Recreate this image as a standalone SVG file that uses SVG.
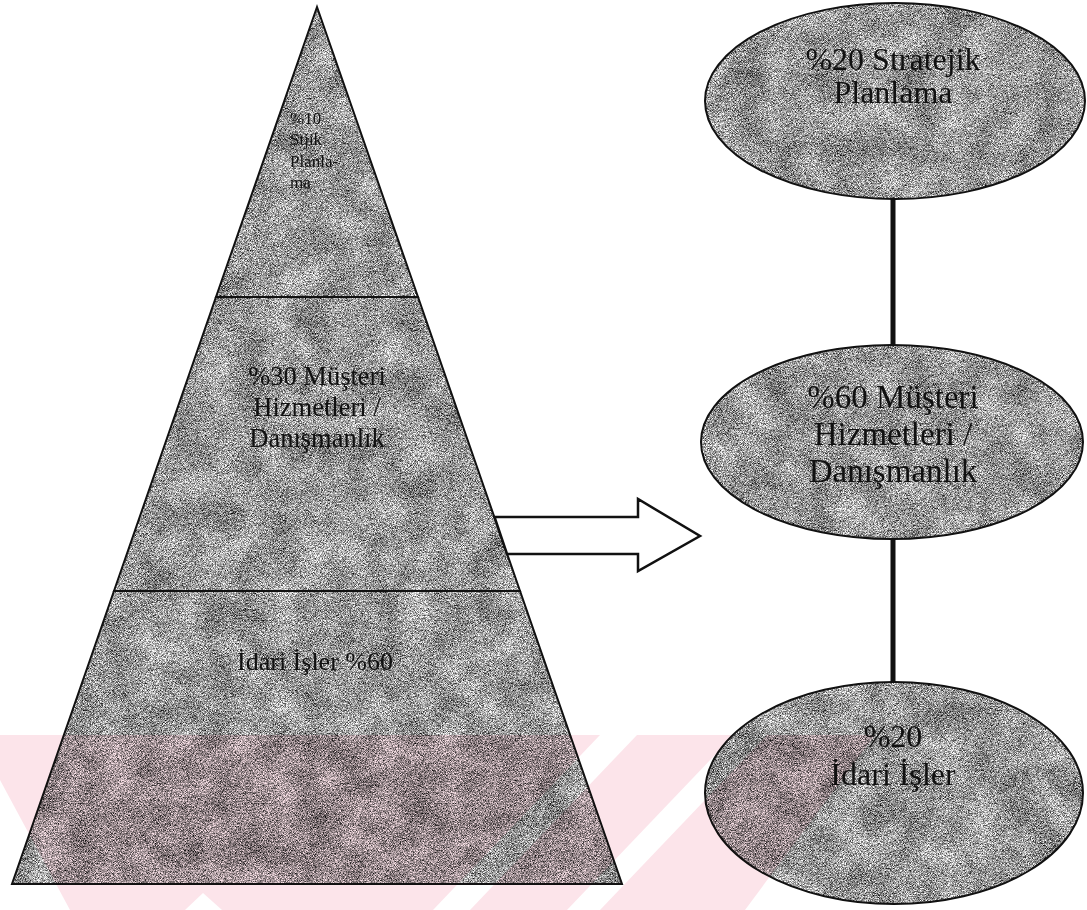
<svg xmlns="http://www.w3.org/2000/svg" width="1087" height="910" viewBox="0 0 1087 910">
<style>
  .edge{fill:none;stroke:#111;stroke-width:2}
  .grain{fill:#999;filter:url(#grain)}
  .t{font-family:"Liberation Serif","Times New Roman",serif;fill:#111}
  .c{text-anchor:middle}
  .link{stroke:#111;stroke-width:5;fill:none}
</style>
<defs>
  <filter id="grain" x="0" y="0" width="1" height="1" color-interpolation-filters="sRGB">
    <feTurbulence type="fractalNoise" baseFrequency="1.4" numOctaves="1" seed="7" result="fine"/>
    <feColorMatrix in="fine" type="matrix" values="1 0 0 0 0  1 0 0 0 0  1 0 0 0 0  0 0 0 0 1" result="fineG"/>
    <feTurbulence type="fractalNoise" baseFrequency="0.03" numOctaves="2" seed="3" result="coarse"/>
    <feColorMatrix in="coarse" type="matrix" values="1 0 0 0 0  1 0 0 0 0  1 0 0 0 0  0 0 0 0 1" result="coarseG"/>
    <feComposite in="fineG" in2="coarseG" operator="arithmetic" k2="1" k3="0.22" k4="-0.11" result="mix"/>
    <feComponentTransfer in="mix" result="contrast">
      <feFuncR type="linear" slope="1.9" intercept="-0.35"/>
      <feFuncG type="linear" slope="1.9" intercept="-0.35"/>
      <feFuncB type="linear" slope="1.9" intercept="-0.35"/>
      <feFuncA type="linear" slope="0" intercept="1"/>
    </feComponentTransfer>
    <feComposite in="contrast" in2="SourceGraphic" operator="in"/>
  </filter>
  <mask id="wmMask">
    <rect x="0" y="735" width="1087" height="175" fill="#fff"/>
    <polygon points="600,735 637,735 470,910 433,910" fill="#000"/>
    <polygon points="734,735 767,735 600,910 567,910" fill="#000"/>
    <polygon points="185,910 222,910 203,893" fill="#000"/>
    <polygon points="0,780 70,910 0,910" fill="#000"/>
    <polygon points="875,735 1087,735 1087,910 745,910" fill="#000"/>
  </mask>
</defs>

<g id="pyramid-top">
  <polygon class="grain" points="317,7 216,297 418,297"/>
  <polygon class="edge" points="317,7 216,297 418,297"/>
  <text class="t" font-size="17" x="290" y="124">%10</text>
  <text class="t" font-size="17" x="290" y="145">Stjik</text>
  <text class="t" font-size="17" x="290" y="167">Planla-</text>
  <text class="t" font-size="17" x="290" y="188">ma</text>
</g>
<g id="pyramid-middle">
  <polygon class="grain" points="216,297 418,297 520,591 114,591"/>
  <polygon class="edge" points="216,297 418,297 520,591 114,591"/>
  <text class="t c" font-size="26.5" x="317" y="385">%30 Müşteri</text>
  <text class="t c" font-size="26.5" x="317" y="416">Hizmetleri /</text>
  <text class="t c" font-size="26.5" x="317" y="447">Danışmanlık</text>
</g>
<g id="pyramid-bottom">
  <polygon class="grain" points="114,591 520,591 622,884 12,884"/>
  <polygon class="edge" points="114,591 520,591 622,884 12,884"/>
  <text class="t c" font-size="26" x="315" y="670">İdari İşler %60</text>
</g>

<g id="transition-arrow">
  <polygon points="494.5,517 638,517 638,499 700,536 638,571 638,554 507,554" fill="#fff" stroke="#111" stroke-width="2.5" stroke-linejoin="miter"/>
</g>

<g id="connectors">
  <line class="link" x1="893" y1="199" x2="893" y2="345"/>
  <line class="link" x1="893" y1="539" x2="893" y2="682"/>
</g>

<g id="ellipse-strategic">
  <ellipse class="grain" cx="895" cy="101" rx="190" ry="98"/>
  <ellipse class="edge" cx="895" cy="101" rx="190" ry="98"/>
  <text class="t c" font-size="32" x="893" y="70">%20 Stratejik</text>
  <text class="t c" font-size="32" x="893" y="103">Planlama</text>
</g>
<g id="ellipse-customer">
  <ellipse class="grain" cx="892" cy="442" rx="191" ry="97"/>
  <ellipse class="edge" cx="892" cy="442" rx="191" ry="97"/>
  <text class="t c" font-size="33" x="893" y="408">%60 Müşteri</text>
  <text class="t c" font-size="33" x="893" y="445">Hizmetleri /</text>
  <text class="t c" font-size="33" x="893" y="482">Danışmanlık</text>
</g>
<g id="ellipse-admin">
  <ellipse class="grain" cx="894" cy="793" rx="189" ry="111"/>
  <ellipse class="edge" cx="894" cy="793" rx="189" ry="111"/>
  <text class="t c" font-size="32" x="893" y="747">%20</text>
  <text class="t c" font-size="32" x="893" y="785">İdari İşler</text>
</g>

<g id="watermark" style="mix-blend-mode:multiply">
  <rect x="0" y="735" width="1087" height="175" fill="#fce4ea" mask="url(#wmMask)"/>
</g>
</svg>
